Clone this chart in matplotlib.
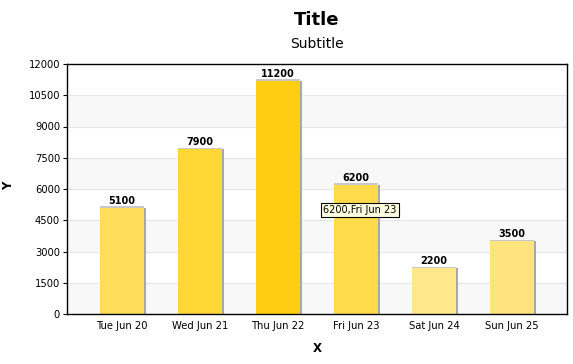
import matplotlib
matplotlib.use("Agg")
import matplotlib.pyplot as plt
import numpy as np

categories = ["Tue Jun 20", "Wed Jun 21", "Thu Jun 22", "Fri Jun 23", "Sat Jun 24", "Sun Jun 25"]
values = [5100, 7900, 11200, 6200, 2200, 3500]
bar_colors = ["#FFDD5A", "#FFD838", "#FFCE12", "#FFDB4C", "#FFE78A", "#FFE47E"]
y_ticks = [0, 1500, 3000, 4500, 6000, 7500, 9000, 10500, 12000]

plt.rcParams['font.family'] = ['DejaVu Sans']

W, H = 573, 364
fig = plt.figure(figsize=(W / 100, H / 100), dpi=100)
ax = fig.add_axes([67 / W, (H - 314) / H, 500 / W, 250 / H])

x = np.arange(len(categories))
ax.set_xlim(-0.705, len(categories) - 1 + 0.705)
ax.set_ylim(0, 12000)

# alternating bands
for i in range(len(y_ticks) - 1):
    if i % 2 == 0:
        ax.axhspan(y_ticks[i], y_ticks[i + 1], color="#F8F8F8", zorder=0, lw=0)
for t in y_ticks[1:-1]:
    ax.axhline(t, color="#E6E6E6", lw=0.8, zorder=0.5)

width = 0.57
px_x = (len(categories) - 1 + 1.41) / 500.0
px_y = 12000 / 250.0
# shadow
ax.bar(x + 1.5 * px_x, np.array(values), width=width, color="#A8A8A8", zorder=1, lw=0)
ax.bar(x, np.array(values) + 1.5 * px_y, width=width, color="#C8C8C8", zorder=1.5, lw=0)
ax.bar(x, values, width=width, color=bar_colors, zorder=2, lw=0)

for xi, v in zip(x, values):
    ax.text(xi, v + 2.0 * px_y, str(v), ha="center", va="bottom", fontsize=7, fontweight="bold", zorder=3)

ax.set_xticks(x)
ax.set_xticklabels(categories, fontsize=7.2)
ax.set_yticks(y_ticks)
ax.set_yticklabels([str(t) for t in y_ticks], fontsize=7.2)
ax.tick_params(axis="x", length=0, pad=5)
ax.tick_params(axis="y", length=3, width=0.8, pad=2)
for s in ax.spines.values():
    s.set_linewidth(1.0)
    s.set_color("black")

ax.set_xlabel("X", fontsize=8.5, fontweight="bold", labelpad=8)
fig.text(9 / W, 1 - 186 / H, "Y", rotation=90, ha="center", va="center", fontsize=8.5, fontweight="bold")

fig.text(317 / W, 1 - 20 / H, "Title", ha="center", va="center", fontsize=13, fontweight="bold")
fig.text(317 / W, 1 - 44 / H, "Subtitle", ha="center", va="center", fontsize=10)

# tooltip
ax.text(x[3] + 4 * px_x, values[3] - 25 * px_y, f"{values[3]},{categories[3]}", ha="center", va="center",
        fontsize=7, zorder=5,
        bbox=dict(boxstyle="square,pad=0.2", fc="#FFFFE1", ec="black", lw=0.8))

fig.savefig("out.png", dpi=100)
